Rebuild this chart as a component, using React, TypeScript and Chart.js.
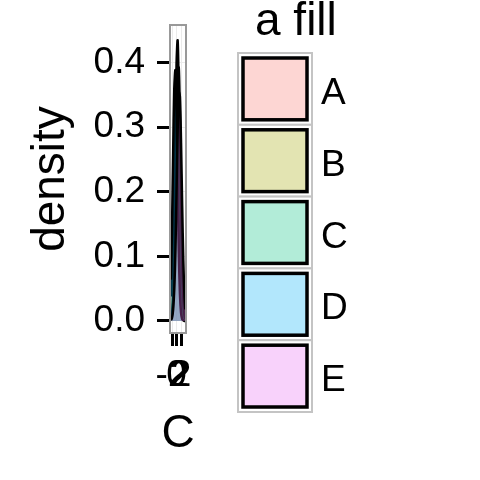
import React, { useEffect, useRef } from "react";
import { Chart, registerables } from "chart.js";

Chart.register(...registerables);

const categories = ["A", "B", "C", "D", "E"];
const xGrid = [-2.5, -2, -1.5, -1, -0.5, 0, 0.5, 1, 1.5, 2, 2.5, 3, 3.5, 3.9];
const densityA = [0.002, 0.012, 0.047, 0.13, 0.265, 0.397, 0.434, 0.35, 0.208, 0.09, 0.029, 0.007, 0.001, 0];
const densityB = [0.038, 0.083, 0.151, 0.234, 0.302, 0.33, 0.302, 0.234, 0.151, 0.083, 0.038, 0.015, 0.005, 0.002];
const densityC = [0.002, 0.008, 0.028, 0.079, 0.172, 0.29, 0.382, 0.392, 0.313, 0.195, 0.094, 0.036, 0.01, 0.003];
const densityD = [0.064, 0.146, 0.26, 0.36, 0.388, 0.326, 0.213, 0.108, 0.043, 0.013, 0.003, 0.001, 0, 0];
const densityE = [0.001, 0.005, 0.018, 0.049, 0.108, 0.199, 0.293, 0.354, 0.347, 0.276, 0.179, 0.094, 0.04, 0.018];
const densities = [densityA, densityB, densityC, densityD, densityE];
const yTicks = [0, 0.1, 0.2, 0.3, 0.4];
const xTicks = [-2, 0, 2];
const xTitle = "C";
const yTitle = "density";
const legendTitle = "a fill";

const hueColors = ["248,118,109", "163,165,0", "0,191,125", "0,176,246", "231,107,243"];
const FONT = "'Liberation Sans', Arial, sans-serif";

const panelPlugin = {
  id: "panelBorder",
  afterDatasetsDraw(chart: any) {
    const { ctx, chartArea: a } = chart;
    ctx.save();
    ctx.strokeStyle = "#999999";
    ctx.lineWidth = 2;
    ctx.strokeRect(a.left, a.top, a.right - a.left, a.bottom - a.top);
    ctx.restore();
  },
};

const titlesLegendPlugin = {
  id: "ggLegend",
  afterDraw(chart: any) {
    const ctx = chart.ctx;
    const a = chart.chartArea;
    ctx.save();
    ctx.fillStyle = "#000";
    ctx.textBaseline = "alphabetic";
    ctx.font = `46px ${FONT}`;
    ctx.textAlign = "center";
    ctx.fillText(xTitle, (a.left + a.right) / 2, 447);
    ctx.textAlign = "left";
    ctx.fillText(legendTitle, 255, 35);
    const left = 238;
    const top = 53;
    const w = 74;
    const step = 71.8;
    categories.forEach((cat, i) => {
      const t = top + i * step;
      ctx.fillStyle = "#ffffff";
      ctx.fillRect(left, t, w, step);
      ctx.strokeStyle = "#c4c4c4";
      ctx.lineWidth = 2;
      ctx.strokeRect(left, t, w, step);
      ctx.fillStyle = `rgba(${hueColors[i]},0.3)`;
      ctx.fillRect(left + 5, t + 5, w - 10, step - 10);
      ctx.strokeStyle = "#000";
      ctx.lineWidth = 3.5;
      ctx.strokeRect(left + 5, t + 5, w - 10, step - 10);
      ctx.fillStyle = "#000";
      ctx.font = `37px ${FONT}`;
      ctx.fillText(cat, 321, t + step / 2 + 15);
    });
    ctx.restore();
  },
};

const noPad = (s: any) => {
  s.paddingTop = 0;
  s.paddingBottom = 0;
  s.paddingLeft = 0;
  s.paddingRight = 0;
};

export default function App() {
  const ref = useRef<HTMLCanvasElement>(null);
  useEffect(() => {
    if (!ref.current) return;
    const datasets = categories.map((cat, i) => ({
      label: cat,
      data: xGrid.map((x, j) => ({ x, y: densities[i][j] })),
      fill: "origin",
      order: categories.length - i,
      backgroundColor: `rgba(${hueColors[i]},0.3)`,
      borderColor: "#000000",
      borderWidth: 2.5,
      pointRadius: 0,
      tension: 0.3,
    }));
    const chart = new Chart(ref.current, {
      type: "line",
      data: { datasets },
      options: {
        animation: false,
        responsive: false,
        layout: { padding: { top: 25, right: 294, left: 0, bottom: 0 } },
        plugins: { legend: { display: false }, tooltip: { enabled: false } },
        scales: {
          x: {
            type: "linear",
            min: -2.9,
            max: 4.2,
            afterFit: (s: any) => { s.height = 147; noPad(s); },
            afterBuildTicks: (s: any) => { s.ticks = xTicks.map((v) => ({ value: v })); },
            border: { display: false },
            grid: { color: "#ebebeb", lineWidth: 1, tickColor: "#000", tickWidth: 3, tickLength: 13 },
            ticks: {
              autoSkip: false,
              maxRotation: 0,
              minRotation: 0,
              padding: 8,
              color: "#000",
              font: { size: 37, family: FONT },
              callback: (v: any) => String(v),
            },
            title: { display: false },
          },
          y: {
            type: "linear",
            min: -0.0186,
            max: 0.458,
            afterFit: (s: any) => { s.width = 170; noPad(s); },
            afterBuildTicks: (s: any) => { s.ticks = yTicks.map((v) => ({ value: v })); },
            border: { display: false },
            grid: { color: "#ebebeb", lineWidth: 1, tickColor: "#000", tickWidth: 3, tickLength: 13 },
            ticks: {
              padding: 12,
              color: "#000",
              font: { size: 37, family: FONT },
              callback: (v: any) => Number(v).toFixed(1),
            },
            title: { display: true, text: yTitle, color: "#000", font: { size: 46, family: FONT }, padding: { top: 24, bottom: 0 } },
          },
        },
      },
      plugins: [panelPlugin, titlesLegendPlugin],
    } as any);
    return () => chart.destroy();
  }, []);
  return (
    <div style={{ position: "fixed", left: 0, top: 0, width: 480, height: 480, background: "#fff" }}>
      <canvas ref={ref} width={480} height={480} style={{ width: 480, height: 480 }} />
    </div>
  );
}
